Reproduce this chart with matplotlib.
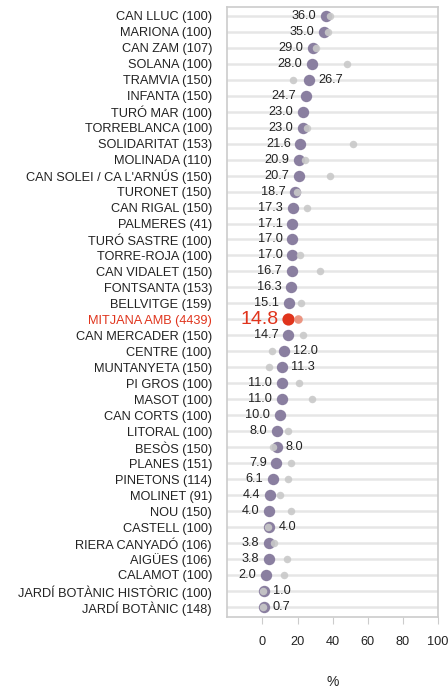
import numpy as np
import matplotlib
matplotlib.use("Agg")
import matplotlib.pyplot as plt

plt.rcParams['font.family'] = ['Liberation Sans', 'DejaVu Sans']

categories = ["CAN LLUC (100)", "MARIONA (100)", "CAN ZAM (107)", "SOLANA (100)",
              "TRAMVIA (150)", "INFANTA (150)", "TURÓ MAR (100)", "TORREBLANCA (100)",
              "SOLIDARITAT (153)", "MOLINADA (110)", "CAN SOLEI / CA L'ARNÚS (150)",
              "TURONET (150)", "CAN RIGAL (150)", "PALMERES (41)", "TURÓ SASTRE (100)",
              "TORRE-ROJA (100)", "CAN VIDALET (150)", "FONTSANTA (153)", "BELLVITGE (159)",
              "MITJANA AMB (4439)", "CAN MERCADER (150)", "CENTRE (100)", "MUNTANYETA (150)",
              "PI GROS (100)", "MASOT (100)", "CAN CORTS (100)", "LITORAL (100)",
              "BESÒS (150)", "PLANES (151)", "PINETONS (114)", "MOLINET (91)", "NOU (150)",
              "CASTELL (100)", "RIERA CANYADÓ (106)", "AIGÜES (106)", "CALAMOT (100)",
              "JARDÍ BOTÀNIC HISTÒRIC (100)", "JARDÍ BOTÀNIC (148)"]
current = [36.0, 35.0, 29.0, 28.0, 26.7, 24.7, 23.0, 23.0, 21.6, 20.9, 20.7, 18.7,
           17.3, 17.1, 17.0, 17.0, 16.7, 16.3, 15.1, 14.8, 14.7, 12.0, 11.3, 11.0,
           11.0, 10.0, 8.0, 8.0, 7.9, 6.1, 4.4, 4.0, 4.0, 3.8, 3.8, 2.0, 1.0, 0.7]
previous = [38.2, 37.5, 30.3, 48.0, 17.6, np.nan, np.nan, 25.6, 51.7, 24.4, 38.3, 19.9,
            25.6, np.nan, np.nan, 21.4, 32.6, np.nan, 22.0, 20.3, 22.9, 5.3, 3.8, 20.8,
            28.2, np.nan, 14.4, 6.1, 16.1, 14.8, 10.2, 16.1, 3.0, 6.3, 14.2, 12.3, 0.2, 0.2]
highlight = "MITJANA AMB (4439)"
xticks = [0, 20, 40, 60, 80, 100]

fig = plt.figure(figsize=(4.48, 6.89), dpi=100)
ax = fig.add_axes([0.5074, 0.1045, 0.978 - 0.5074, 0.990 - 0.1045])

n = len(categories)
ypos = np.arange(n)
purple = "#8a7fa0"
grey = "#c9c9c9"
red = "#e0341c"
lightred = "#ea8a74"
FS = 9.2

for y in ypos:
    ax.axhline(y, color="#e6e6e6", lw=1.8, zorder=0)

for i, (cat, cur, prev) in enumerate(zip(categories, current, previous)):
    hl = cat == highlight
    ax.plot(cur, i, 'o', ms=8.8 if hl else 8.2, color=red if hl else purple,
            mec='none', zorder=3)
    if not np.isnan(prev):
        ax.plot(prev, i, 'o', ms=6.2 if hl else 5.4, color=lightred if hl else grey,
                mec='none', alpha=0.9, zorder=4)
    right = (not np.isnan(prev)) and prev < cur
    fs = 14 if hl else FS
    col = red if hl else "#222222"
    if right:
        ax.annotate(f"{cur:.1f}", (cur, i), xytext=(6.5, 0), textcoords='offset points',
                    ha='left', va='center', fontsize=fs, color=col)
    else:
        ax.annotate(f"{cur:.1f}", (cur, i), xytext=(-7, 0), textcoords='offset points',
                    ha='right', va='center', fontsize=fs, color=col)

ax.set_xlim(-20, 100)
ax.set_ylim(n - 1 + 0.63, -0.56)
ax.set_yticks(ypos)
ax.set_yticklabels(categories, fontsize=FS)
for lab in ax.get_yticklabels():
    lab.set_color(red if lab.get_text() == highlight else "#222222")
ax.tick_params(axis='y', length=0, pad=11)
ax.set_xticks(xticks)
ax.set_xticklabels([str(t) for t in xticks], fontsize=FS, color="#222222")
ax.tick_params(axis='x', length=5, color="#cccccc", pad=9, direction='out')
ax.set_xlabel("%", fontsize=10, color="#222222", labelpad=19)
for s in ax.spines.values():
    s.set_color("#cccccc")
    s.set_linewidth(1.2)

fig.savefig("out.png", dpi=100)
